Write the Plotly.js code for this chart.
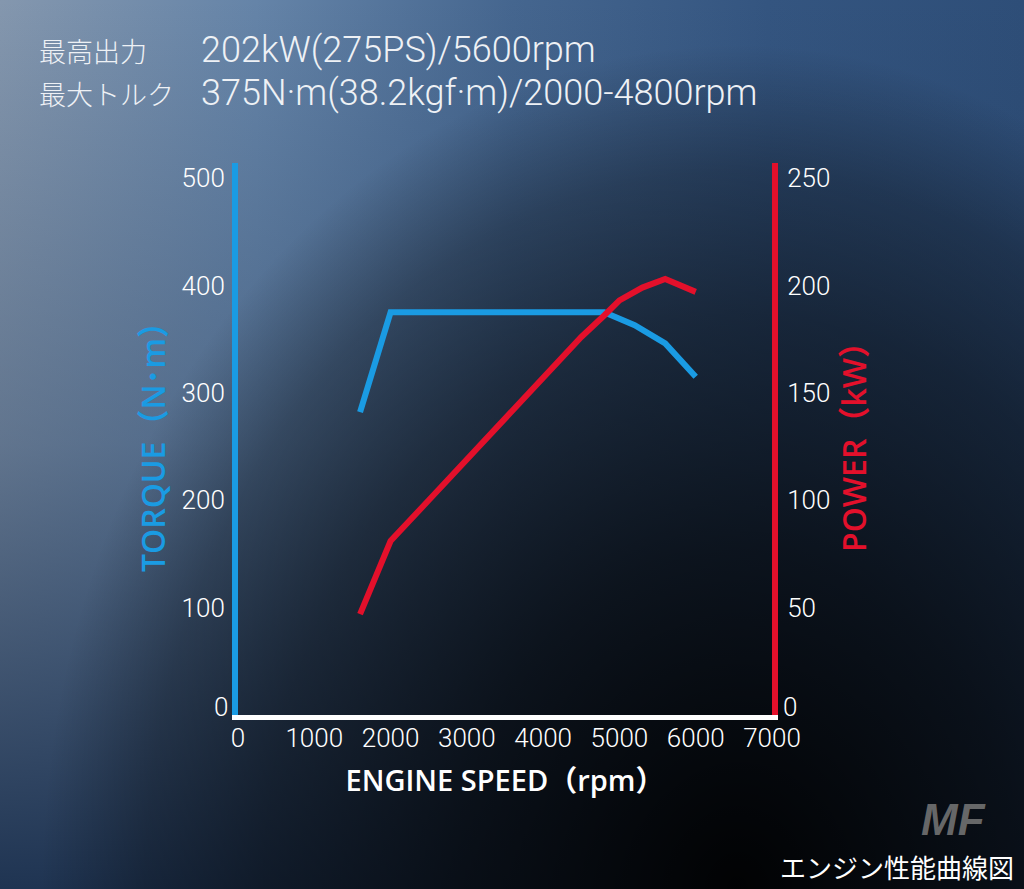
<!DOCTYPE html>
<html>
<head>
<meta charset="utf-8">
<script src="https://cdn.plot.ly/plotly-3.0.1.min.js"></script>
<style>
  html, body { margin: 0; padding: 0; width: 1024px; height: 889px; overflow: hidden; }
  body {
    background:
      radial-gradient(ellipse 68% 95% at 72% 100%, rgba(0,0,0,0.96) 0%, rgba(0,0,0,0.72) 40%, rgba(0,0,0,0.5) 68%, rgba(0,0,0,0.3) 85%, rgba(0,0,0,0) 100%),
      linear-gradient(to bottom, rgba(31,52,82,0) 0%, rgba(31,52,82,0.35) 50%, rgba(31,52,82,1) 100%),
      linear-gradient(to right, #8497ae 0%, #6584a8 25%, #45668f 50%, #345580 75%, #2e4e78 100%);
  }
  #chart { width: 1024px; height: 889px; }
</style>
</head>
<body>
<div id="chart"></div>
<script>
// ---- data ----
const torqueRpm   = [1600, 2000, 4800, 5200, 5600, 6000];
const torqueNm    = [282, 375, 375, 363, 346, 315];
const powerRpm    = [1600, 2000, 2500, 3000, 3500, 4000, 4500, 4800, 5000, 5300, 5600, 6000];
const powerKw     = [47, 81, 100, 119, 138, 156, 176, 186, 193, 199, 203, 197];
const xTicks      = [0, 1000, 2000, 3000, 4000, 5000, 6000, 7000];
const torqueTicks = [100, 200, 300, 400, 500];
const powerTicks  = [50, 100, 150, 200, 250];
const zeroLabel   = "0";
const gridTicks   = [100, 200, 300, 400];
const specLabels  = ["最高出力", "最大トルク"];
const specValues  = ["202kW(275PS)/5600rpm", "375N·m(38.2kgf·m)/2000-4800rpm"];
const xTitle      = "ENGINE SPEED（rpm）";
const torqueTitle = "TORQUE（N･m）";
const powerTitle  = "POWER（kW）";
const caption     = "エンジン性能曲線図";

const BLUE = "#1a9be3";
const RED  = "#e3102b";
const tickFamily = "Roboto, 'Liberation Sans Narrow', sans-serif";
const titleFamily = "'Open Sans', 'Noto Sans CJK JP', sans-serif";
const jpFamily = "'Noto Sans CJK JP', 'Noto Sans', sans-serif";
const valFamily = "Roboto, 'Noto Sans CJK JP', sans-serif";
const tickFont = { family: tickFamily, size: 26, color: "#ffffff", weight: 300 };

const traces = [
  { x: torqueRpm, y: torqueNm, yaxis: "y", type: "scatter", mode: "lines",
    line: { color: BLUE, width: 6 }, hoverinfo: "skip", showlegend: false },
  { x: powerRpm, y: powerKw, yaxis: "y2", type: "scatter", mode: "lines",
    line: { color: RED, width: 6 }, hoverinfo: "skip", showlegend: false }
];

const L = 238, R = 772, T = 163, B = 715, W = 1024, H = 889;
const px = v => (v - L) / (R - L);
const py = v => (B - v) / (B - T);

const annotations = [];
const rowsY = [50, 93];
specLabels.forEach((s, i) => {
  annotations.push({ xref: "paper", yref: "paper", x: px(37), y: py(rowsY[i]), xanchor: "left", yanchor: "middle",
    text: s, showarrow: false, font: { family: jpFamily, size: 27, color: "#eef1f5", weight: 300 } });
  annotations.push({ xref: "paper", yref: "paper", x: px(199), y: py(rowsY[i]), xanchor: "left", yanchor: "middle",
    text: specValues[i], showarrow: false, font: { family: valFamily, size: 36, color: "#eef1f5", weight: 300 } });
});
// raised "0" labels on both value axes
annotations.push({ xref: "paper", yref: "y", x: 0, y: 0, xanchor: "right", yanchor: "middle", xshift: -8, yshift: 8,
  text: zeroLabel, showarrow: false, font: tickFont });
annotations.push({ xref: "paper", yref: "y2", x: 1, y: 0, xanchor: "left", yanchor: "middle", xshift: 9, yshift: 8,
  text: zeroLabel, showarrow: false, font: tickFont });
annotations.push({ xref: "paper", yref: "paper", x: px(1016), y: py(866), xanchor: "right", yanchor: "middle",
  text: caption, showarrow: false, font: { family: jpFamily, size: 26, color: "#ffffff" } });
annotations.push({ xref: "paper", yref: "paper", x: px(953), y: py(819), xanchor: "center", yanchor: "middle",
  text: "MF", showarrow: false, font: { family: "'Liberation Sans', Arial, sans-serif", size: 44, color: "rgba(120,120,120,0.85)", weight: 900, style: "italic" } });

const layout = {
  width: W, height: H,
  paper_bgcolor: "rgba(0,0,0,0)", plot_bgcolor: "rgba(0,0,0,0)",
  margin: { l: L, r: W - R, t: T, b: H - B, pad: 0 },
  showlegend: false,
  xaxis: {
    range: [0, 7000], tickvals: xTicks, ticktext: xTicks.map(String),
    showgrid: false, zeroline: false, showline: true, linecolor: "#ffffff", linewidth: 5,
    ticks: "", ticklabelstandoff: -4,
    tickfont: tickFont,
    title: { text: xTitle, standoff: 20, font: { family: titleFamily, size: 29, color: "#ffffff", weight: 600 } },
    fixedrange: true, automargin: false
  },
  yaxis: {
    range: [0, 514], tickvals: torqueTicks, ticktext: torqueTicks.map(String),
    showgrid: false, zeroline: false, showline: true, linecolor: BLUE, linewidth: 6,
    ticks: "", ticklabelstandoff: 2,
    tickfont: tickFont,
    title: { text: torqueTitle, standoff: 8, font: { family: titleFamily, size: 32, color: BLUE, weight: 600 } },
    fixedrange: true, automargin: false
  },
  yaxis2: {
    overlaying: "y", side: "right",
    range: [0, 257], tickvals: powerTicks, ticktext: powerTicks.map(String),
    showgrid: false, zeroline: false, showline: true, linecolor: RED, linewidth: 6,
    ticks: "", ticklabelstandoff: 4,
    tickfont: tickFont,
    title: { text: powerTitle, standoff: 16, font: { family: titleFamily, size: 32, color: RED, weight: 600 } },
    fixedrange: true, automargin: false
  },
  yaxis3: {
    overlaying: "y", range: [0, 514], tickvals: gridTicks,
    showgrid: true, gridcolor: "#ffffff", gridwidth: 1.6,
    showticklabels: false, zeroline: false, showline: false, ticks: "",
    fixedrange: true, automargin: false
  },
  annotations: annotations
};

Plotly.newPlot("chart", traces, layout, { staticPlot: true, displayModeBar: false });
</script>
</body>
</html>
